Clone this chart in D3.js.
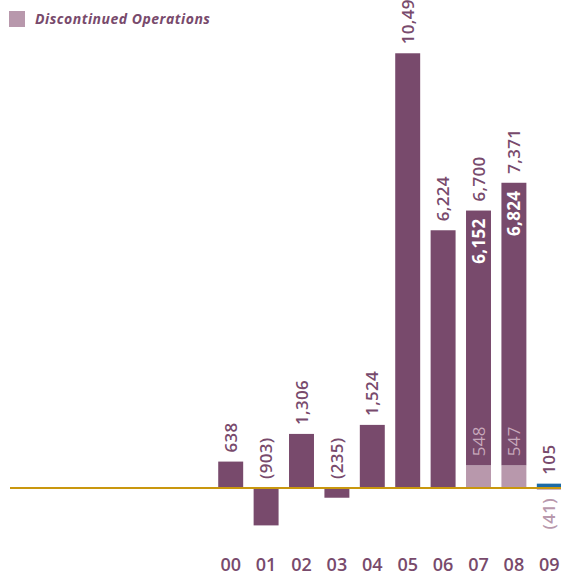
<!DOCTYPE html>
<html>
<head>
<meta charset="utf-8">
<script src="https://cdn.jsdelivr.net/npm/d3@7"></script>
<style>
  body { margin: 0; background: #fff; }
  text { font-family: "Open Sans", sans-serif; }
</style>
</head>
<body>
<div id="chart"></div>
<script>
// data
var years = ["00", "01", "02", "03", "04", "05", "06", "07", "08", "09"]
var continuing = [638, -903, 1306, -235, 1524, 10498, 6224, 6152, 6824, 105]
var discontinued = [0, 0, 0, 0, 0, 0, 0, 548, 547, -41]
var legendLabel = "Discontinued Operations"

var width = 561,
    height = 577,
    base = 488

var dark = "#784a6c",
    light = "#b898ac",
    blue = "#1c6aa6",
    gold = "#c9970e"

var svg = d3.select("#chart")
    .append("svg")
    .attr("width", width)
    .attr("height", height)

var x = d3.scaleBand()
    .domain(years)
    .range([213, 567])
    .paddingInner(0.295)
    .paddingOuter(0.1475)

var y = d3.scaleLinear()
    .domain([0, 10000])
    .range([base, base - 414.1])

var fmt = function (v) {
    var s = d3.format(",")(Math.abs(v))
    return v < 0 ? "(" + s + ")" : s
}

var rows = years.map(function (k, i) {
    var c = continuing[i], d = discontinued[i]
    var lo = d > 0 ? d : 0
    return { key: k, cont: c, disc: d, lo: lo, total: c + lo, last: i == years.length - 1 }
})

// discontinued segments
svg.selectAll(".disc")
    .data(rows.filter(function (r) { return r.disc != 0 }))
    .enter()
    .append("rect")
    .attr("x", function (r) { return x(r.key) })
    .attr("width", x.bandwidth())
    .attr("y", function (r) { return y(Math.max(0, r.disc)) })
    .attr("height", function (r) { return Math.abs(y(r.disc) - y(0)) })
    .attr("fill", light)

// continuing operations
svg.selectAll(".cont")
    .data(rows)
    .enter()
    .append("rect")
    .attr("x", function (r) { return x(r.key) })
    .attr("width", x.bandwidth())
    .attr("y", function (r) { return y(Math.max(r.lo, r.lo + r.cont)) })
    .attr("height", function (r) { return Math.abs(y(r.lo + r.cont) - y(r.lo)) })
    .attr("fill", function (r) { return r.last ? blue : dark })

// baseline
svg.append("line")
    .attr("x1", 10).attr("x2", width)
    .attr("y1", base).attr("y2", base)
    .attr("stroke", gold)
    .attr("stroke-width", 2)

var cx = function (r) { return x(r.key) + x.bandwidth() / 2 }

function vlabel(sel) {
    return sel.append("text")
        .attr("dy", "0.36em")
        .style("font-size", "17px")
        .style("font-weight", 600)
        .style("letter-spacing", "0.3px")
}

// totals above the bars
vlabel(svg.selectAll(".tot").data(rows).enter())
    .attr("transform", function (r) {
        return "translate(" + cx(r) + "," + (y(Math.max(0, r.total)) - 9) + ") rotate(-90)"
    })
    .attr("fill", dark)
    .text(function (r) { return fmt(r.total) })

var stacked = rows.filter(function (r) { return r.disc > 0 })

// continuing value inside stacked bars
vlabel(svg.selectAll(".inn").data(stacked).enter())
    .attr("transform", function (r) {
        return "translate(" + cx(r) + "," + (y(r.total) + 8) + ") rotate(-90)"
    })
    .attr("text-anchor", "end")
    .attr("fill", "#fff")
    .style("font-weight", 700)
    .text(function (r) { return fmt(r.cont) })

// discontinued value above its segment
vlabel(svg.selectAll(".dl").data(stacked).enter())
    .attr("transform", function (r) {
        return "translate(" + cx(r) + "," + (y(r.disc) - 9) + ") rotate(-90)"
    })
    .attr("fill", "#c7a8bb")
    .style("font-weight", 400)
    .text(function (r) { return fmt(r.disc) })

// negative discontinued below the baseline
vlabel(svg.selectAll(".neg").data(rows.filter(function (r) { return r.disc < 0 })).enter())
    .attr("transform", function (r) {
        return "translate(" + cx(r) + "," + (base + 10) + ") rotate(-90)"
    })
    .attr("text-anchor", "end")
    .attr("fill", light)
    .text(function (r) { return fmt(r.disc) })

// year labels
svg.selectAll(".yr")
    .data(years)
    .enter()
    .append("text")
    .attr("x", function (k) { return x(k) + x.bandwidth() / 2 })
    .attr("y", 571)
    .attr("text-anchor", "middle")
    .attr("fill", dark)
    .style("font-size", "18px")
    .style("font-weight", 600)
    .text(function (k) { return k })

// legend
svg.append("rect")
    .attr("x", 9).attr("y", 11)
    .attr("width", 16).attr("height", 16)
    .attr("fill", light)
svg.append("text")
    .attr("x", 35).attr("y", 23.5)
    .attr("fill", dark)
    .style("font-size", "14px")
    .style("font-weight", 700)
    .style("font-style", "italic")
    .style("letter-spacing", "0.5px")
    .text(legendLabel)
</script>
</body>
</html>
